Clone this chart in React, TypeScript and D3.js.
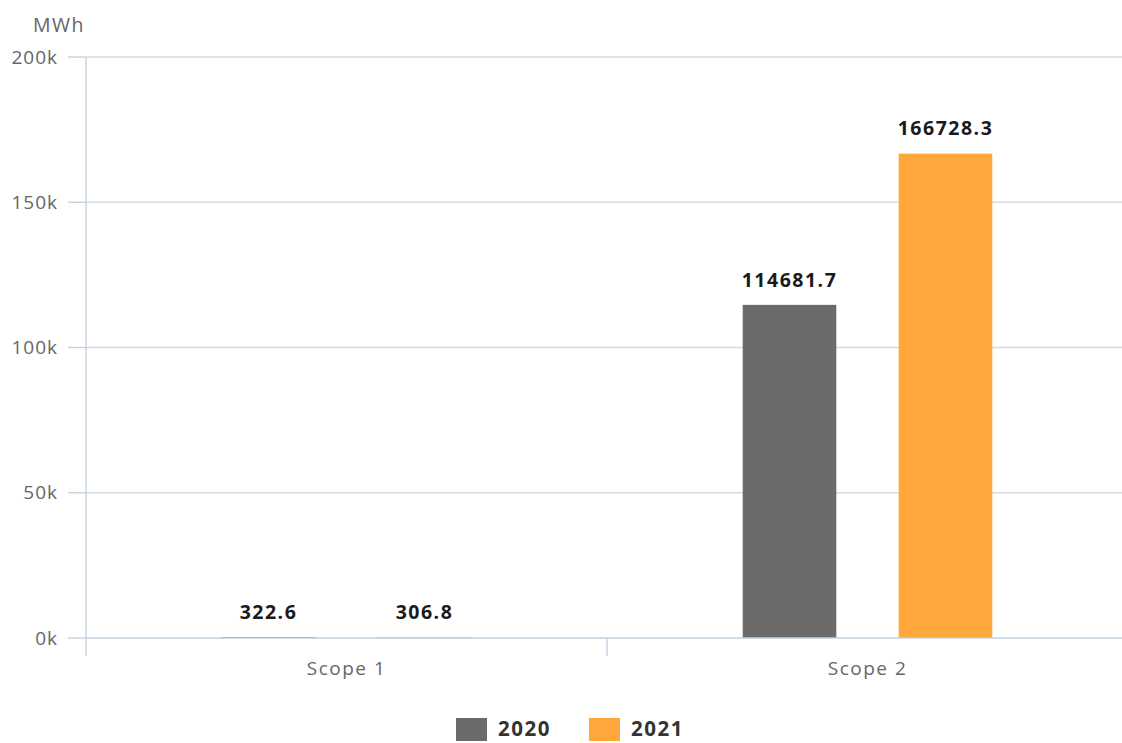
import React, { useRef, useEffect } from "react";
import * as d3 from "d3";

// chart data
const categories = ["Scope 1", "Scope 2"];
const seriesNames = ["2020", "2021"];
const values2020 = [322.6, 114681.7];
const values2021 = [306.8, 166728.3];
const yTicks = [0, 50000, 100000, 150000, 200000];
const colors = ["#6b6b6b", "#ffa73b"];

const W = 1122;
const H = 743;

function BarChart() {
    const ref = useRef<SVGSVGElement>(null);

    useEffect(() => {
        const svg = d3.select(ref.current).html("");
        const font = "'Open Sans', sans-serif";

        const left = 86;
        const right = 1128;
        const top = 57;
        const bottom = 638;

        const x = d3.scaleBand<string>().domain(categories).range([left, right]);
        const y = d3.scaleLinear().domain([0, 200000]).range([bottom, top]);

        // grid lines
        svg.append("g")
            .selectAll("line")
            .data(yTicks.slice(1))
            .join("line")
            .attr("x1", left)
            .attr("x2", W)
            .attr("y1", (d) => y(d))
            .attr("y2", (d) => y(d))
            .attr("stroke", "#d9d9d9")
            .attr("stroke-width", 1.3);

        // bars (drawn under the axis line)
        const xs = d3.scaleBand<string>()
            .domain(seriesNames)
            .range([0, x.bandwidth()])
            .paddingInner(0.4)
            .paddingOuter(0.87);

        const series = [values2020, values2021];
        const labels = svg.append("g");
        series.forEach((vals, si) => {
            const rows = categories.map((c, i) => ({ c, v: vals[i] }));
            svg.append("g")
                .selectAll("rect")
                .data(rows)
                .join("rect")
                .attr("x", (d) => x(d.c)! + xs(seriesNames[si])!)
                .attr("width", xs.bandwidth())
                .attr("y", (d) => y(d.v))
                .attr("height", (d) => bottom - y(d.v))
                .attr("fill", colors[si]);
            labels.append("g")
                .selectAll("text")
                .data(rows)
                .join("text")
                .attr("x", (d) => x(d.c)! + xs(seriesNames[si])! + xs.bandwidth() / 2)
                .attr("y", (d) => y(d.v) - 25)
                .attr("dy", "0.35em")
                .attr("text-anchor", "middle")
                .attr("fill", "#1a1a1a")
                .style("font", `bold 19.5px ${font}`)
                .style("letter-spacing", "1.5px")
                .text((d) => d.v.toFixed(1));
        });
        labels.raise();

        // y tick marks and labels
        const yg = svg.append("g");
        yg.selectAll("line")
            .data(yTicks)
            .join("line")
            .attr("x1", left - 18)
            .attr("x2", left)
            .attr("y1", (d) => y(d))
            .attr("y2", (d) => y(d))
            .attr("stroke", "#c0d0e0")
            .attr("stroke-width", 1.3);
        yg.selectAll("text")
            .data(yTicks)
            .join("text")
            .attr("x", 58)
            .attr("y", (d) => y(d))
            .attr("dy", "0.35em")
            .attr("text-anchor", "end")
            .attr("fill", "#666")
            .style("font", `19px ${font}`)
            .style("letter-spacing", "1px")
            .text((d) => `${d / 1000}k`);

        // y axis line
        svg.append("line")
            .attr("x1", left)
            .attr("x2", left)
            .attr("y1", top)
            .attr("y2", bottom + 18)
            .attr("stroke", "#c0d0e0")
            .attr("stroke-width", 1.3);

        // x axis line
        svg.append("line")
            .attr("x1", left)
            .attr("x2", W)
            .attr("y1", bottom)
            .attr("y2", bottom)
            .attr("stroke", "#c0d0e0")
            .attr("stroke-width", 1.3);

        // x tick marks between categories
        svg.append("g")
            .selectAll("line")
            .data(categories.slice(1))
            .join("line")
            .attr("x1", (d) => x(d)!)
            .attr("x2", (d) => x(d)!)
            .attr("y1", bottom)
            .attr("y2", bottom + 18)
            .attr("stroke", "#c0d0e0")
            .attr("stroke-width", 1.3);

        svg.append("g")
            .selectAll("text")
            .data(categories)
            .join("text")
            .attr("x", (d) => x(d)! + x.bandwidth() / 2)
            .attr("y", 668)
            .attr("dy", "0.35em")
            .attr("text-anchor", "middle")
            .attr("fill", "#666")
            .style("font", `19px ${font}`)
            .style("letter-spacing", "1.5px")
            .text((d) => d);

        // unit label
        svg.append("text")
            .attr("x", 33)
            .attr("y", 25)
            .attr("dy", "0.35em")
            .attr("fill", "#666")
            .style("font", `19.5px ${font}`)
            .style("letter-spacing", "1.5px")
            .text("MWh");

        // legend
        const legendX = [456, 589];
        const lg = svg.append("g");
        seriesNames.forEach((s, i) => {
            lg.append("rect")
                .attr("x", legendX[i])
                .attr("y", 718)
                .attr("width", 31)
                .attr("height", 23)
                .attr("fill", colors[i]);
            lg.append("text")
                .attr("x", legendX[i] + 42)
                .attr("y", 729)
                .attr("dy", "0.35em")
                .attr("fill", "#333")
                .style("font", `bold 20.5px ${font}`)
                .style("letter-spacing", "1.5px")
                .text(s);
        });
    }, []);

    return <svg ref={ref} width={W} height={H} style={{ display: "block" }} />;
}

export default function App() {
    return (
        <div style={{ position: "absolute", left: 0, top: 0, width: W, height: H, overflow: "hidden" }}>
            <BarChart />
        </div>
    );
}
